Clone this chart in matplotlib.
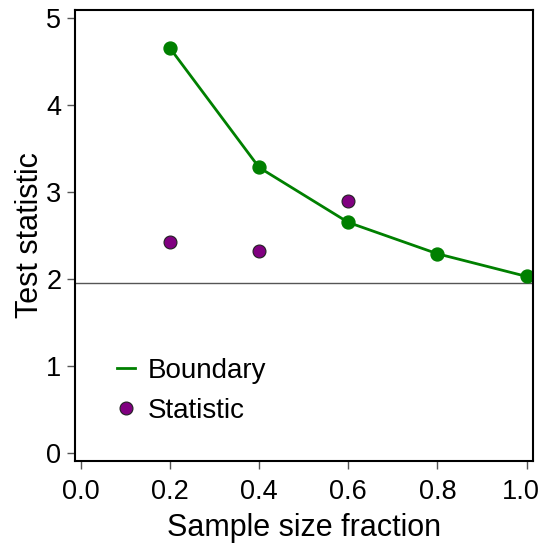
import matplotlib
matplotlib.use("Agg")
import matplotlib.pyplot as plt
import matplotlib.transforms as mtransforms
from matplotlib.lines import Line2D

plt.rcParams['font.family'] = ['Liberation Sans', 'DejaVu Sans']

fraction = [0.2, 0.4, 0.6, 0.8, 1.0]
boundary = [4.65, 3.28, 2.65, 2.29, 2.03]
stat_fraction = [0.2, 0.4, 0.6]
statistic = [2.43, 2.32, 2.90]
critical = 1.96
xticks = [0.0, 0.2, 0.4, 0.6, 0.8, 1.0]
xticklabels = ["0.0", "0.2", "0.4", "0.6", "0.8", "1.0"]
yticks = [0, 1, 2, 3, 4, 5]

fig = plt.figure(figsize=(5.4, 5.48), dpi=100)
ax = fig.add_axes([0.138, 0.158, 0.8496, 0.8243])

ax.axhline(critical, color='#555555', lw=1.0, zorder=1)
ax.plot(fraction, boundary, color='#008000', lw=2.0, marker='o', ms=9.3,
        mec='#008000', zorder=2)
ax.plot(stat_fraction, statistic, ls='none', marker='o', ms=9.3,
        mfc='#800080', mec='#222222', mew=0.8, zorder=3)

ax.set_xlim(-0.014, 1.015)
ax.set_ylim(-0.092, 5.09)
ax.set_xticks(xticks)
ax.set_xticklabels(xticklabels)
ax.set_yticks(yticks)
ax.tick_params(axis='both', labelsize=19.5, length=5.5, width=1, color='#555555')
ax.tick_params(axis='x', pad=7)
ax.tick_params(axis='y', pad=4)
for s in ax.spines.values():
    s.set_linewidth(1.5)

# keep the last x tick label inside the figure
last = ax.get_xticklabels()[-1]
last.set_transform(last.get_transform() +
                   mtransforms.ScaledTranslation(-6 / 100, 0, fig.dpi_scale_trans))

ax.set_xlabel("Sample size fraction", fontsize=22, labelpad=6)
ax.set_ylabel("Test statistic", fontsize=22, labelpad=1)

handles = [
    Line2D([], [], color='#008000', lw=2.0),
    Line2D([], [], ls='none', marker='o', ms=9.3, mfc='#800080', mec='#222222', mew=0.8),
]
ax.legend(handles, ["Boundary", "Statistic"], loc='lower left',
          bbox_to_anchor=(0.092, 0.083), frameon=False, fontsize=20,
          borderpad=0, borderaxespad=0,
          handlelength=0.65, handletextpad=0.47, labelspacing=0.5)

fig.savefig("out.png", dpi=100)
